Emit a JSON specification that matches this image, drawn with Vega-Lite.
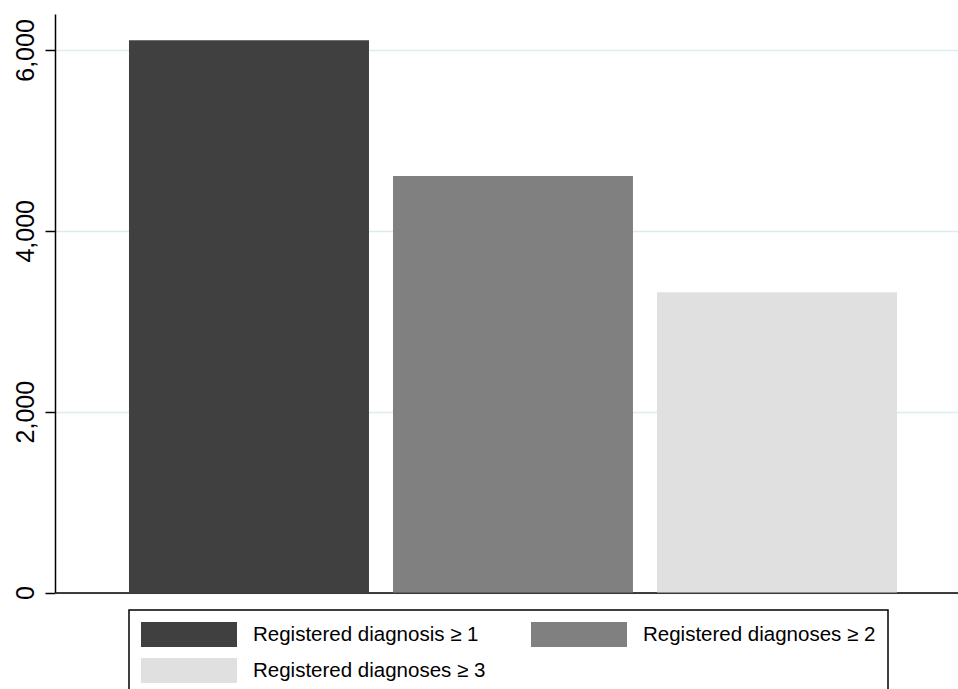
{
  "$schema": "https://vega.github.io/schema/vega-lite/v6.json",
  "width": 903,
  "height": 578.5,
  "autosize": "none",
  "padding": {"left": 55, "top": 14, "right": 0, "bottom": 97},
  "background": "white",
  "config": {"view": {"stroke": null}, "font": "Liberation Sans"},
  "data": {
    "values": [
      {"group": "Registered diagnosis ≥ 1", "value": 6107},
      {"group": "Registered diagnoses ≥ 2", "value": 4606},
      {"group": "Registered diagnoses ≥ 3", "value": 3320}
    ]
  },
  "mark": {"type": "bar"},
  "encoding": {
    "x": {
      "field": "group",
      "type": "nominal",
      "sort": null,
      "scale": {"paddingInner": 0.0909, "paddingOuter": 0.2557, "align": 0.548},
      "axis": {"title": null, "labels": false, "ticks": false, "grid": false, "domainColor": "black", "domainWidth": 1.5}
    },
    "y": {
      "field": "value",
      "type": "quantitative",
      "scale": {"domain": [0, 6398], "nice": false},
      "axis": {
        "title": null,
        "values": [0, 2000, 4000, 6000],
        "format": ",.0f",
        "labelAngle": -90,
        "labelAlign": "center",
        "labelBaseline": "alphabetic",
        "labelFontSize": 25,
        "labelColor": "black",
        "labelPadding": 12,
        "tickSize": 10,
        "tickColor": "black",
        "tickWidth": 1.5,
        "domainColor": "black",
        "domainWidth": 1.5,
        "gridColor": "#e0ecec",
        "gridWidth": 1.3
      }
    },
    "color": {
      "field": "group",
      "type": "nominal",
      "scale": {
        "domain": ["Registered diagnosis ≥ 1", "Registered diagnoses ≥ 3", "Registered diagnoses ≥ 2"],
        "range": ["#404040", "#e0e0e0", "#808080"]
      },
      "legend": {
        "title": null,
        "orient": "none",
        "legendX": 74,
        "legendY": 596,
        "columns": 2,
        "symbolType": "M-1,-0.26H1V0.26H-1Z",
        "symbolSize": 9216,
        "symbolStrokeWidth": 0,
        "symbolOpacity": 1,
        "clipHeight": 25,
        "labelFontSize": 20.5,
        "labelColor": "black",
        "labelOffset": 16,
        "labelLimit": 400,
        "columnPadding": 45,
        "rowPadding": 11,
        "padding": 12,
        "strokeColor": "black",
        "fillColor": "white",
        "encode": {"legend": {"update": {"strokeWidth": {"value": 1.5}}}}
      }
    }
  }
}
